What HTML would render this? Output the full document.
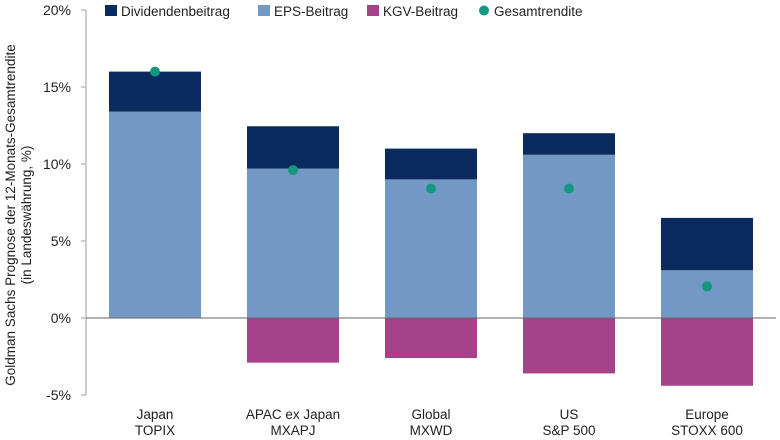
<!DOCTYPE html>
<html><head><meta charset="utf-8"><style>
body{margin:0;background:#fff;}
svg{display:block;font-family:"Liberation Sans",sans-serif;}
</style></head><body>
<svg id="chart" width="780" height="440" viewBox="0 0 780 440" xmlns="http://www.w3.org/2000/svg">
<g id="legend"></g>
<g id="axes"></g>
<g id="bars"></g>
<g id="dots"></g>
</svg>
<script>
const categories=[["Japan","TOPIX"],["APAC ex Japan","MXAPJ"],["Global","MXWD"],["US","S&P 500"],["Europe","STOXX 600"]];
const kgv=[3.05,-2.9,-2.6,-3.6,-4.4];
const eps=[13.4,9.7,9.0,10.6,3.1];
const dividend=[2.6,2.75,2.0,1.4,3.4];
const total=[16.0,9.6,8.4,8.4,2.05];
const yTicks=[20,15,10,5,0,-5];
const yTickLabels=["20%","15%","10%","5%","0%","-5%"];
const NS="http://www.w3.org/2000/svg";
const C={div:"#0b2b5e",eps:"#7299c6",kgv:"#a5428a",dot:"#14967f"};
function y(v){return 318-v*15.4;}
function x(i){return 109+i*138;}
const bw=92;
function mk(tag,attrs,parent,text){const e=document.createElementNS(NS,tag);for(const k in attrs)e.setAttribute(k,attrs[k]);if(text!==undefined)e.textContent=text;document.getElementById(parent).appendChild(e);return e;}
// axes
let ax=mk("line",{x1:86,x2:86,y1:y(20),y2:y(-5),stroke:"#bdbdbd","stroke-width":1.5},"axes");


yTicks.forEach((t,i)=>{
 let tk=mk("line",{x1:81,x2:86,y1:y(t),y2:y(t),stroke:"#bdbdbd","stroke-width":1.5},"axes");
 
 
 let lb=mk("text",{x:71,y:y(t)+5,"text-anchor":"end","font-size":14,fill:"#222"},"axes",yTickLabels[i]);
 
 
});
let yt=mk("text",{transform:"translate(19,215) rotate(-90)","text-anchor":"middle","font-size":13.5,fill:"#222"},"axes");


let t1=document.createElementNS(NS,"tspan");t1.setAttribute("x",0);t1.setAttribute("dy",-4);t1.textContent="Goldman Sachs Prognose der 12-Monats-Gesamtrendite";yt.appendChild(t1);
let t2=document.createElementNS(NS,"tspan");t2.setAttribute("x",0);t2.setAttribute("dy",16);t2.textContent="(in Landeswährung, %)";yt.appendChild(t2);
// bars
categories.forEach((c,i)=>{
 let r1=mk("rect",{x:x(i),width:bw,y:Math.min(y(0),y(kgv[i])),height:Math.abs(y(kgv[i])-y(0)),fill:C.kgv},"bars");
 
 
 let r2=mk("rect",{x:x(i),width:bw,y:y(eps[i]),height:y(0)-y(eps[i]),fill:C.eps},"bars");
 
 
 let top=eps[i]+dividend[i];
 let r3=mk("rect",{x:x(i),width:bw,y:y(top),height:y(eps[i])-y(top),fill:C.div},"bars");
 
 
 let d=mk("circle",{cx:x(i)+bw/2,cy:y(total[i]),r:5,fill:C.dot},"dots");
 
 
 c.forEach((s,j)=>{
  let l=mk("text",{x:x(i)+bw/2,y:419+j*16,"text-anchor":"middle","font-size":13.5,fill:"#222"},"axes",s);
  
  
 });
});
let zl=mk("line",{x1:86,x2:776,y1:y(0),y2:y(0),stroke:"#666","stroke-width":1},"bars");


// legend
const leg=[["Dividendenbeitrag",C.div,105,"sq"],["EPS-Beitrag",C.eps,258,"sq"],["KGV-Beitrag",C.kgv,367,"sq"],["Gesamtrendite",C.dot,478,"dot"]];
leg.forEach(l=>{
 let m;
 if(l[3]=="sq"){m=mk("rect",{x:l[2],y:5,width:12,height:11,fill:l[1]},"legend");}
 else{m=mk("circle",{cx:l[2]+6,cy:10.5,r:5,fill:l[1]},"legend");}
 
 
 let t=mk("text",{x:l[2]+16,y:16,"font-size":13.5,fill:"#222"},"legend",l[0]);
 
 
});
</script>
</body></html>
